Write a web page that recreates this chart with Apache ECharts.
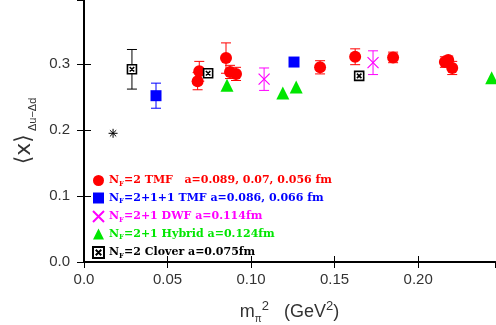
<!DOCTYPE html>
<html>
<head>
<meta charset="utf-8">
<script src="https://cdn.jsdelivr.net/npm/echarts@6/dist/echarts.min.js"></script>
<style>
  html, body { margin: 0; padding: 0; background: #fff; }
  #chart { width: 496px; height: 325px; }
</style>
</head>
<body>
<div id="chart"></div>
<script>
// N_f=2 twisted mass (TMF)
const tmf2X = [0.068, 0.069, 0.085, 0.0874, 0.091, 0.1413, 0.1623, 0.185, 0.216, 0.218, 0.2204];
const tmf2Y = [0.274, 0.289, 0.309, 0.288, 0.285, 0.295, 0.311, 0.310, 0.303, 0.306, 0.294];
const tmf2Err = [0.013, 0.015, 0.023, 0.010, 0.010, 0.010, 0.012, 0.008, 0.008, 0.006, 0.010];
// N_f=2+1+1 TMF
const tmf211X = [0.0431, 0.1257];
const tmf211Y = [0.252, 0.303];
const tmf211Err = [0.019, 0.004];
// N_f=2+1 DWF
const dwfX = [0.1078, 0.173];
const dwfY = [0.277, 0.302];
const dwfErr = [0.017, 0.018];
// N_f=2+1 hybrid
const hybX = [0.0856, 0.119, 0.127, 0.244];
const hybY = [0.268, 0.256, 0.265, 0.279];
// N_f=2 clover
const clvX = [0.0287, 0.0743, 0.1647];
const clvY = [0.292, 0.286, 0.282];
const clvErr = [0.030, 0.003, 0.003];
// phenomenological value
const physX = [0.0174];
const physY = [0.195];

const names = ['tmf2', 'tmf211', 'dwf', 'hyb', 'clv'];
const legendText = {
  tmf2: '{n|N}{s|F}{n|=2 TMF   a=0.089, 0.07, 0.056 fm}',
  tmf211: '{n|N}{s|F}{n|=2+1+1 TMF a=0.086, 0.066 fm}',
  dwf: '{n|N}{s|F}{n|=2+1 DWF a=0.114fm}',
  hyb: '{n|N}{s|F}{n|=2+1 Hybrid a=0.124fm}',
  clv: '{n|N}{s|F}{n|=2 Clover a=0.075fm}'
};
const colors = { tmf2: '#ff0000', tmf211: '#0000ff', dwf: '#ff00ff', hyb: '#00e600', clv: '#000000' };

const zip = (xs, ys) => xs.map((x, i) => [x, ys[i]]);

function errBars(name, xs, ys, es, color) {
  return {
    type: 'custom',
    name: name + '-err',
    silent: true,
    z: 1,
    data: xs.map((x, i) => [x, ys[i] - es[i], ys[i] + es[i]]),
    encode: { x: 0, y: [1, 2] },
    renderItem: (params, api) => {
      const lo = api.coord([api.value(0), api.value(1)]);
      const hi = api.coord([api.value(0), api.value(2)]);
      const w = 5;
      const st = { stroke: color, lineWidth: 1 };
      return {
        type: 'group',
        children: [
          { type: 'line', shape: { x1: lo[0], y1: lo[1], x2: hi[0], y2: hi[1] }, style: st },
          { type: 'line', shape: { x1: lo[0] - w, y1: lo[1], x2: lo[0] + w, y2: lo[1] }, style: st },
          { type: 'line', shape: { x1: hi[0] - w, y1: hi[1], x2: hi[0] + w, y2: hi[1] }, style: st }
        ]
      };
    }
  };
}

const labelStyle = { color: '#333', fontSize: 15, fontFamily: 'Liberation Sans', showMaxLabel: false };

const chart = echarts.init(document.getElementById('chart'));
chart.setOption({
  animation: false,
  grid: { left: 84, right: 1, top: 0, bottom: 63, outerBoundsMode: 'none' },
  xAxis: [
    {
      type: 'value', min: 0, max: 0.246, interval: 0.05,
      axisLine: { lineStyle: { color: '#000', width: 2 } },
      axisTick: { inside: true, length: 6, lineStyle: { color: '#000' } },
      splitLine: { show: false },
      axisLabel: Object.assign({ margin: 10, formatter: v => v === 0 ? '0.0' : v.toFixed(2) }, labelStyle),
      name: '{t|m}{s|π}{p|2}{t|   (GeV}{p|2}{t|)}',
      nameLocation: 'middle',
      nameGap: 38,
      nameTextStyle: {
        rich: {
          t: { fontSize: 18, color: '#333', fontFamily: 'Liberation Sans', lineHeight: 24 },
          s: { fontSize: 10, color: '#333', fontFamily: 'Liberation Sans', verticalAlign: 'bottom', lineHeight: 11 },
          p: { fontSize: 13, color: '#333', fontFamily: 'Liberation Sans', verticalAlign: 'top', lineHeight: 14 }
        }
      }
    },
    {
      type: 'value', position: 'top', min: 0, max: 0.246, interval: 0.05,
      axisLine: { lineStyle: { color: '#000', width: 2 } },
      axisTick: { inside: true, length: 6, lineStyle: { color: '#000' } },
      axisLabel: { show: false },
      splitLine: { show: false }
    }
  ],
  yAxis: [
    {
      type: 'value', min: 0, max: 0.397, interval: 0.1,
      axisLine: { lineStyle: { color: '#000', width: 2 } },
      axisTick: { inside: true, length: 7, lineStyle: { color: '#000' } },
      splitLine: { show: false },
      axisLabel: Object.assign({ margin: 14, formatter: v => v.toFixed(1) }, labelStyle),
      name: '{b|⟨x⟩}{s| Δu−Δd}',
      nameLocation: 'middle',
      nameGap: 36,
      nameTextStyle: {
        rich: {
          b: { fontSize: 22, color: '#333', fontFamily: 'DejaVu Sans', lineHeight: 28 },
          s: { fontSize: 11, color: '#333', fontFamily: 'Liberation Sans', verticalAlign: 'bottom', lineHeight: 12 }
        }
      }
    },
    {
      type: 'value', position: 'right', min: 0, max: 0.397, interval: 0.1,
      axisLine: { lineStyle: { color: '#000', width: 2 } },
      axisTick: { inside: true, length: 7, lineStyle: { color: '#000' } },
      axisLabel: { show: false },
      splitLine: { show: false }
    }
  ],
  legend: {
    orient: 'vertical',
    left: 87,
    top: 170,
    itemGap: 5,
    itemWidth: 11,
    itemHeight: 11,
    data: names.map(n => ({ name: n, textStyle: { color: colors[n] } })),
    formatter: n => legendText[n],
    textStyle: {
      rich: {
        n: { fontFamily: 'DejaVu Serif', fontWeight: 'bold', fontSize: 11, lineHeight: 14 },
        s: { fontFamily: 'DejaVu Serif', fontWeight: 'bold', fontSize: 7, verticalAlign: 'bottom', lineHeight: 8 }
      }
    }
  },
  series: [
    errBars('tmf2', tmf2X, tmf2Y, tmf2Err, colors.tmf2),
    errBars('tmf211', tmf211X, tmf211Y, tmf211Err, colors.tmf211),
    errBars('dwf', dwfX, dwfY, dwfErr, colors.dwf),
    errBars('clv', clvX, clvY, clvErr, colors.clv),
    {
      type: 'scatter', name: 'tmf2', data: zip(tmf2X, tmf2Y),
      symbol: 'circle', symbolSize: 12, itemStyle: { color: colors.tmf2, opacity: 1 }
    },
    {
      type: 'scatter', name: 'tmf211', data: zip(tmf211X, tmf211Y),
      symbol: 'rect', symbolSize: 11, itemStyle: { color: colors.tmf211, opacity: 1 }
    },
    {
      type: 'scatter', name: 'dwf', data: zip(dwfX, dwfY),
      symbol: 'path://M0,0L10,10M10,0L0,10', symbolSize: 11,
      itemStyle: { color: 'transparent', borderColor: colors.dwf, borderWidth: 1.2, opacity: 1 }
    },
    {
      type: 'scatter', name: 'hyb', data: zip(hybX, hybY),
      symbol: 'triangle', symbolSize: 13, itemStyle: { color: colors.hyb, opacity: 1 }
    },
    {
      type: 'scatter', name: 'clv', data: zip(clvX, clvY),
      symbol: 'path://M0,0L10,0L10,10L0,10ZM2.5,2.5L7.5,7.5M7.5,2.5L2.5,7.5', symbolSize: 9,
      itemStyle: { color: '#fff', borderColor: '#000', borderWidth: 1.6, opacity: 1 }
    },
    {
      type: 'scatter', name: 'phys', data: zip(physX, physY),
      symbol: 'path://M5,0L5,10M0,5L10,5M1.5,1.5L8.5,8.5M8.5,1.5L1.5,8.5', symbolSize: 9,
      itemStyle: { color: 'transparent', borderColor: '#000', borderWidth: 1, opacity: 1 }
    }
  ]
});
</script>
</body>
</html>
